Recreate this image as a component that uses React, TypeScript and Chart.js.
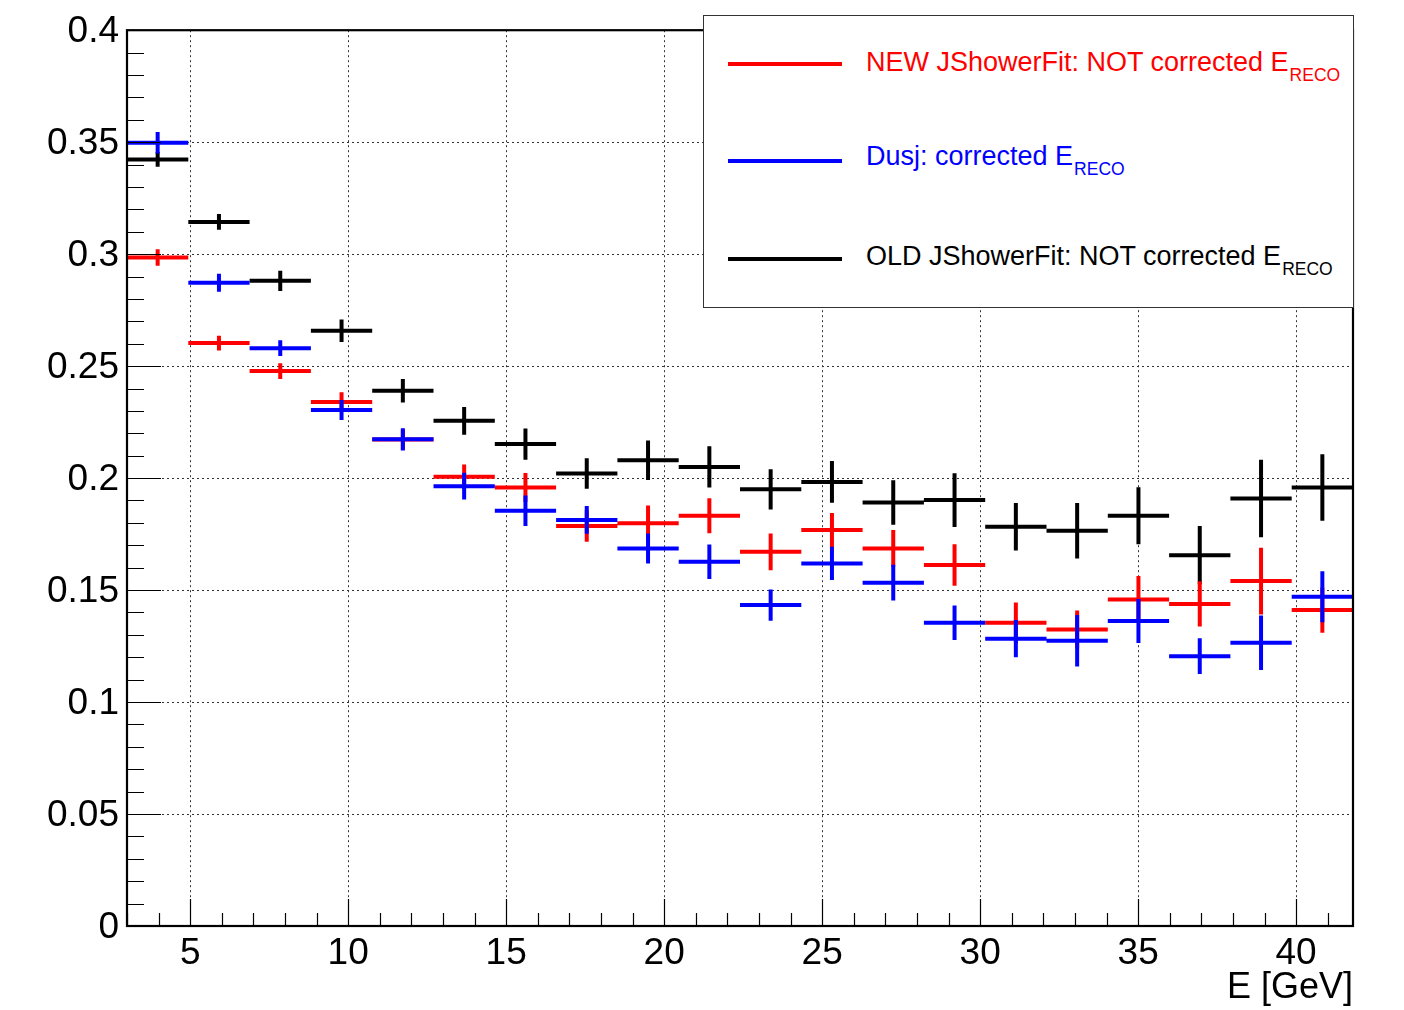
import React, { useEffect, useRef } from 'react';
import { Chart, registerables } from 'chart.js';

Chart.register(...registerables);

// ---------- data ----------
const binEdges = [3.0, 4.94, 6.88, 8.82, 10.76, 12.7, 14.64, 16.58, 18.52, 20.46, 22.4, 24.34, 26.28, 28.22, 30.16, 32.1, 34.04, 35.98, 37.92, 39.86, 41.8];

const newFitValues = [0.2985, 0.2603, 0.2478, 0.234, 0.2172, 0.2006, 0.1958, 0.1786, 0.1798, 0.1832, 0.1671, 0.1768, 0.1686, 0.1612, 0.1354, 0.1324, 0.1458, 0.1438, 0.154, 0.1411];
const newFitErrors = [0.0037, 0.0033, 0.0035, 0.0043, 0.0045, 0.0055, 0.0065, 0.007, 0.008, 0.0078, 0.0082, 0.0076, 0.0082, 0.0093, 0.009, 0.0085, 0.0105, 0.0101, 0.0149, 0.0101];

const dusjValues = [0.3497, 0.2872, 0.258, 0.2304, 0.2173, 0.1964, 0.1854, 0.1813, 0.1686, 0.1626, 0.1433, 0.1619, 0.1533, 0.1354, 0.1283, 0.1274, 0.1362, 0.1205, 0.1265, 0.147];
const dusjErrors = [0.0048, 0.004, 0.0035, 0.0045, 0.005, 0.006, 0.0068, 0.0062, 0.0067, 0.0077, 0.007, 0.0074, 0.008, 0.0077, 0.0083, 0.0115, 0.0098, 0.008, 0.0122, 0.0114];

const oldFitValues = [0.3423, 0.3144, 0.2881, 0.2658, 0.239, 0.2256, 0.2152, 0.2021, 0.208, 0.205, 0.195, 0.1983, 0.1891, 0.1902, 0.1783, 0.1765, 0.1832, 0.1656, 0.1909, 0.1958];
const oldFitErrors = [0.0033, 0.0035, 0.0045, 0.005, 0.0052, 0.0062, 0.007, 0.0068, 0.0088, 0.0092, 0.009, 0.0093, 0.0099, 0.012, 0.0106, 0.0124, 0.0127, 0.013, 0.0173, 0.0149];

const xTickValues = [5, 10, 15, 20, 25, 30, 35, 40];
const yTickValues = [0, 0.05, 0.1, 0.15, 0.2, 0.25, 0.3, 0.35, 0.4];
const yTickLabels = ['0', '0.05', '0.1', '0.15', '0.2', '0.25', '0.3', '0.35', '0.4'];
const xAxisTitle = 'E [GeV]';

const legendLabels = ['NEW JShowerFit: NOT corrected E', 'Dusj: corrected E', 'OLD JShowerFit: NOT corrected E'];
const legendSubscript = 'RECO';
const seriesColors = ['#ff0000', '#0000ff', '#000000'];

// ---------- helpers ----------
const FONT = '"Liberation Sans", Arial, Helvetica, sans-serif';

function crossPoints(values: number[], errors: number[]) {
  const pts: { x: number; y: number | null }[] = [];
  values.forEach((v, i) => {
    const lo = binEdges[i];
    const hi = binEdges[i + 1];
    const c = (lo + hi) / 2;
    const e = errors[i];
    pts.push({ x: lo, y: v }, { x: hi, y: v }, { x: hi, y: null });
    pts.push({ x: c, y: v - e }, { x: c, y: v + e }, { x: c, y: null });
  });
  return pts;
}

const rootAxesPlugin = {
  id: 'rootAxes',
  afterDraw(chart: any) {
    const { ctx, chartArea: a, scales } = chart;
    const x = scales.x;
    const y = scales.y;
    ctx.save();
    ctx.strokeStyle = '#000';
    ctx.lineWidth = 1.2;
    ctx.beginPath();
    for (let v = Math.ceil(x.min); v <= x.max; v++) {
      const px = Math.round(x.getPixelForValue(v)) + 0.5;
      const len = v % 5 === 0 ? 27 : 13;
      ctx.moveTo(px, a.bottom);
      ctx.lineTo(px, a.bottom - len);
    }
    for (let k = 0; k <= 40; k++) {
      const py = Math.round(y.getPixelForValue(k / 100)) + 0.5;
      const len = k % 5 === 0 ? 34 : 17;
      ctx.moveTo(a.left, py);
      ctx.lineTo(a.left + len, py);
    }
    ctx.stroke();
    ctx.lineWidth = 2.2;
    ctx.strokeRect(a.left, a.top, a.right - a.left, a.bottom - a.top);
    ctx.restore();
  },
};

function Legend() {
  const rowBaselines = [72, 166, 266];
  const lineCenters = [64, 161, 259];
  const boxLeft = 703;
  const boxTop = 15;
  return (
    <div
      style={{
        position: 'absolute',
        left: boxLeft,
        top: boxTop,
        width: 651,
        height: 293,
        boxSizing: 'border-box',
        border: '1px solid #333',
        background: '#fff',
        fontFamily: FONT,
      }}
    >
      {legendLabels.map((label, i) => (
        <React.Fragment key={label}>
          <div
            style={{
              position: 'absolute',
              left: 728 - boxLeft - 1,
              top: lineCenters[i] - 2 - boxTop - 1,
              width: 114,
              height: 4,
              background: seriesColors[i],
            }}
          />
          <div
            style={{
              position: 'absolute',
              left: 866 - boxLeft - 1,
              top: rowBaselines[i] - 23 - boxTop - 1,
              fontSize: 27,
              lineHeight: '27px',
              whiteSpace: 'nowrap',
              color: seriesColors[i],
            }}
          >
            {label}
            <span style={{ fontSize: 17.5, position: 'relative', top: 10, marginLeft: 1 }}>{legendSubscript}</span>
          </div>
        </React.Fragment>
      ))}
    </div>
  );
}

export default function App() {
  const canvasRef = useRef<HTMLCanvasElement | null>(null);

  useEffect(() => {
    if (!canvasRef.current) return;
    const mk = (label: string, values: number[], errors: number[], color: string, order: number) => ({
      label,
      data: crossPoints(values, errors),
      borderColor: color,
      backgroundColor: color,
      borderWidth: 4,
      borderCapStyle: 'butt' as const,
      pointRadius: 0,
      pointHoverRadius: 0,
      spanGaps: false,
      tension: 0,
      fill: false,
      order,
    });
    const chart = new Chart(canvasRef.current, {
      type: 'line',
      data: {
        datasets: [
          mk(legendLabels[0], newFitValues, newFitErrors, seriesColors[0], 1),
          mk(legendLabels[1], dusjValues, dusjErrors, seriesColors[1], 0),
          mk(legendLabels[2], oldFitValues, oldFitErrors, seriesColors[2], 2),
        ],
      },
      options: {
        responsive: false,
        animation: false,
        events: [],
        layout: { padding: { top: 30, right: 51, left: 0, bottom: 0 } },
        plugins: { legend: { display: false }, tooltip: { enabled: false } },
        scales: {
          x: {
            type: 'linear',
            min: binEdges[0],
            max: binEdges[binEdges.length - 1],
            afterBuildTicks: (s: any) => {
              s.ticks = xTickValues.map((v) => ({ value: v }));
            },
            afterFit: (s: any) => {
              s.height = 84;
            },
            grid: { drawTicks: false, color: '#333', lineWidth: 1 },
            border: { display: false, dash: [2, 3] },
            ticks: {
              padding: 6,
              color: '#000',
              maxRotation: 0,
              autoSkip: false,
              font: { family: FONT, size: 37 },
              callback: (v: any) => String(v),
            },
            title: {
              display: true,
              text: xAxisTitle,
              align: 'end',
              color: '#000',
              font: { family: FONT, size: 36 },
              padding: { top: 0, bottom: 0 },
            },
          },
          y: {
            type: 'linear',
            min: yTickValues[0],
            max: yTickValues[yTickValues.length - 1],
            afterBuildTicks: (s: any) => {
              s.ticks = yTickValues.map((v) => ({ value: v }));
            },
            afterFit: (s: any) => {
              s.width = 127;
            },
            grid: { drawTicks: false, color: '#333', lineWidth: 1 },
            border: { display: false, dash: [2, 3] },
            ticks: {
              padding: 8,
              labelOffset: 2,
              color: '#000',
              autoSkip: false,
              font: { family: FONT, size: 37 },
              callback: (_v: any, i: number) => yTickLabels[i],
            },
          },
        },
      },
      plugins: [rootAxesPlugin],
    });
    return () => chart.destroy();
  }, []);

  return (
    <div style={{ position: 'fixed', left: 0, top: 0, width: 1404, height: 1010, background: '#fff' }}>
      <canvas ref={canvasRef} width={1404} height={1010} style={{ display: 'block', width: 1404, height: 1010 }} />
      <Legend />
    </div>
  );
}
